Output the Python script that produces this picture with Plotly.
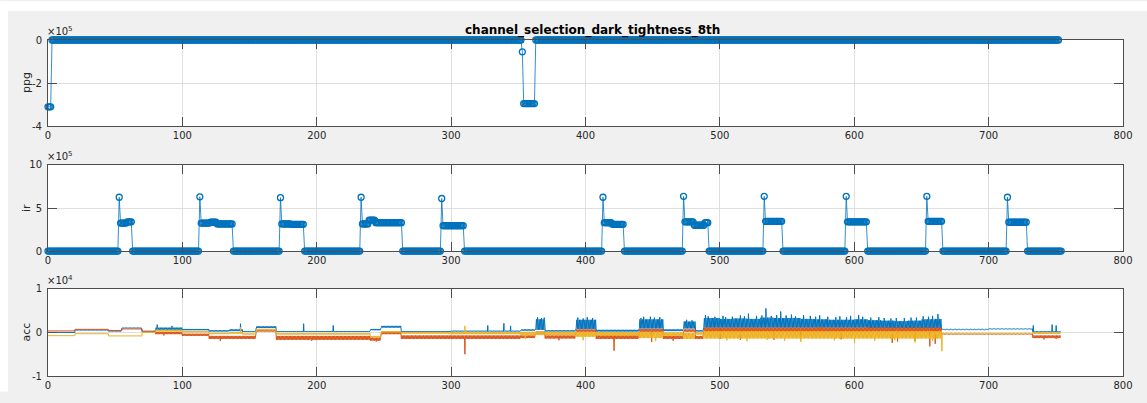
import numpy as np
import plotly.graph_objects as go

# ---------------- data ----------------
# ppg: constant runs of samples (start, end inclusive, value)
ppg_run_start = [0, 3, 353, 354, 363]
ppg_run_end = [2, 352, 353, 362, 752]
ppg_run_value = [-3.1e5, 0, -0.55e5, -2.95e5, 0]

# ir: constant runs of samples
ir_run_start = [0, 53, 54, 59, 63, 113, 114, 121, 126, 138, 173, 174, 181, 191, 233, 234, 239, 244,
                264, 293, 294, 310, 413, 414, 420, 429, 473, 474, 481, 489, 492, 533, 534, 547,
                594, 595, 610, 654, 655, 666, 714, 715, 729]
ir_run_end = [52, 53, 58, 62, 112, 113, 120, 125, 137, 172, 173, 180, 190, 232, 233, 238, 243, 263,
              292, 293, 309, 412, 413, 419, 428, 472, 473, 480, 488, 491, 532, 533, 546, 593,
              594, 609, 653, 654, 665, 713, 714, 728, 754]
ir_run_value = [0, 6.25e5, 3.25e5, 3.4e5, 0, 6.3e5, 3.25e5, 3.35e5, 3.15e5, 0, 6.2e5, 3.15e5, 3.1e5, 0,
                6.25e5, 3.15e5, 3.6e5, 3.3e5, 0, 6.1e5, 2.95e5, 0, 6.25e5, 3.3e5, 3.1e5, 0,
                6.35e5, 3.4e5, 3.0e5, 3.3e5, 0, 6.35e5, 3.45e5, 0, 6.35e5, 3.4e5, 0, 6.35e5,
                3.45e5, 0, 6.25e5, 3.35e5, 0]

# acc: segments with a low / high envelope, plus isolated spikes
acc_x_seg_start = [0, 20, 45, 55, 70, 80, 100, 120, 135, 145, 155, 170, 240, 248, 263, 300, 352, 363, 370,
                   393, 408, 440, 458, 473, 482, 488, 500, 510, 520, 530, 540, 550, 560, 570, 580,
                   590, 600, 610, 620, 630, 640, 650, 660, 665, 700, 733]
acc_x_seg_end = [20, 45, 55, 70, 80, 100, 120, 135, 145, 155, 170, 240, 248, 263, 300, 352, 363, 370, 393,
                 408, 440, 458, 473, 482, 488, 500, 510, 520, 530, 540, 550, 560, 570, 580, 590,
                 600, 610, 620, 630, 640, 650, 660, 665, 700, 733, 754]
acc_x_seg_lo = [0, 500, 250, 1000, 150, 600, 500, 200, 300, 100, 1000, 100, 500, 1100, 100, 200, 400, 600,
                200, 800, 200, 900, 300, 900, 200, 1100, 1100, 1100, 1100, 1100, 1100, 1100, 1100,
                1100, 1100, 1100, 1100, 1000, 1000, 1000, 1000, 1000, 1000, 600, 750, 50]
acc_x_seg_hi = [0, 550, 300, 1050, 200, 1100, 800, 500, 700, 300, 1400, 300, 800, 1500, 300, 400, 700, 3000,
                500, 2900, 600, 3000, 700, 2500, 500, 3300, 3100, 3200, 3100, 3400, 3300, 3300, 3100,
                3000, 2900, 2900, 3000, 2800, 2700, 2600, 2700, 3000, 3100, 750, 850, 250]
acc_x_spike_t = [81, 92, 143, 190, 212, 327, 339, 344,
                 364, 367, 369, 394, 398, 401, 405, 441, 443, 448, 451, 455, 475, 479,
                 489, 491, 496, 502, 504, 509, 515, 518, 521, 527, 531, 534, 538, 542, 545, 549,
                 553, 556, 562, 567, 571, 574, 580, 586, 589, 594, 597, 603, 606, 612, 618, 622,
                 627, 631, 637, 642, 646, 651, 655, 658, 662, 733, 747, 750]
acc_x_spike_v = [1800, 1500, 2000, 2000, 1600, 1600, 2100, 1500,
                 3500, 3300, 3400, 3400, 3200, 3500, 3300, 3300, 3600, 3600, 3400, 3500, 2900, 2800,
                 4000, 3700, 3600, 3800, 3500, 3600, 3900, 3700, 4300, 3800, 3900, 5500, 3800, 4000,
                 4800, 3900, 4100, 3700, 4000, 3800, 3600, 3900, 3600, 3500, 3700, 3500, 3800, 4000,
                 3600, 3400, 3500, 3300, 3200, 3300, 3300, 3400, 3400, 3700, 3600, 3800, 4200,
                 1600, 1800, 1600]

acc_y_seg_start = [0, 20, 45, 55, 70, 80, 100, 120, 155, 170, 240, 248, 263, 352, 363, 370, 393, 408,
                   440, 458, 473, 482, 488, 665, 733]
acc_y_seg_end = [20, 45, 55, 70, 80, 100, 120, 155, 170, 240, 248, 263, 352, 363, 370, 393, 408, 440,
                 458, 473, 482, 488, 665, 733, 754]
acc_y_seg_lo = [350, 700, 450, 800, 300, -400, -800, -1500, 200, -1700, -1900, -400, -1500, -1300, -400,
                -1400, 150, -1500, 150, -1500, 150, -1500, 150, -450, -1300]
acc_y_seg_hi = [350, 700, 450, 800, 300, 100, -300, -800, 500, -800, -1200, 200, -700, -700, 200,
                -700, 700, -700, 800, -800, 700, -800, 1100, -350, -700]
acc_y_spike_t = [86, 128, 196, 244, 310, 380, 421, 449, 465, 500, 515, 540, 560, 575, 590, 610, 628,
                 632, 645, 656, 660, 741, 750]
acc_y_spike_v = [-700, -1900, -1900, -2100, -5000, -1800, -4200, -2200, -1900, -1500, -1700, -1700,
                 -1500, 1500, -1600, 1400, -2400, -2100, -2000, -3200, -2600, -1600, -1500]

acc_z_seg_start = [0, 20, 45, 70, 80, 100, 120, 135, 145, 155, 170, 240, 248, 263, 300, 352, 393, 408,
                   440, 458, 473, 482, 488, 665, 733]
acc_z_seg_end = [20, 45, 70, 80, 100, 120, 135, 145, 155, 170, 240, 248, 263, 300, 352, 393, 408, 440,
                 458, 473, 482, 488, 665, 733, 754]
acc_z_seg_lo = [-750, -300, -800, 0, 200, 0, -400, -300, -500, 500, -500, -1100, 0, -300, -400, -600,
                -1000, -700, -1300, -800, -1500, -500, -1400, -300, -350]
acc_z_seg_hi = [-750, -300, -800, 0, 600, 300, -100, 100, -200, 800, -150, -800, 300, 100, 100, 150,
                100, 100, 100, 0, -100, 0, 300, -150, 0]
acc_z_spike_t = [143, 310, 355, 398, 452, 505, 520, 535, 548, 560, 585, 600, 615, 630, 645, 658, 665]
acc_z_spike_v = [1200, 1500, -1500, -1800, -1900, -1800, -2000, -1700, -1900, -2200, -1800, -2400,
                 -1900, -1800, -2300, -1900, -4300]

x_tick_vals = [0, 100, 200, 300, 400, 500, 600, 700, 800]
x_tick_text = ["0", "100", "200", "300", "400", "500", "600", "700", "800"]
ppg_tick_vals = [-4e5, -2e5, 0]
ppg_tick_text = ["-4", "-2", "0"]
ir_tick_vals = [0, 5e5, 10e5]
ir_tick_text = ["0", "5", "10"]
acc_tick_vals = [-1e4, 0, 1e4]
acc_tick_text = ["-1", "0", "1"]

TITLE = "channel_selection_dark_tightness_8th"
C_BLUE = "#0072BD"
C_RED = "#D95319"
C_YEL = "#EDB120"

# ---------------- helpers ----------------
def expand_runs(starts, ends, values):
    t, v = [], []
    for s, e, val in zip(starts, ends, values):
        for k in range(s, e + 1):
            t.append(k)
            v.append(val)
    return t, v


def band_series(starts, ends, los, his, spike_t, spike_v, step=0.5):
    pts = []
    for s, e, lo, hi in zip(starts, ends, los, his):
        if lo == hi:
            pts.append((s, lo))
            pts.append((e - 1e-6, lo))
        else:
            xs = np.arange(s, e, step)
            for i, xv in enumerate(xs):
                pts.append((float(xv), lo if i % 2 == 0 else hi))
    for st, sv in zip(spike_t, spike_v):
        pts.append((st + 0.25, sv))
    pts.sort(key=lambda p: p[0])
    return [p[0] for p in pts], [p[1] for p in pts]


ppg_t, ppg_v = expand_runs(ppg_run_start, ppg_run_end, ppg_run_value)
ir_t, ir_v = expand_runs(ir_run_start, ir_run_end, ir_run_value)
ax_t, ax_v = band_series(acc_x_seg_start, acc_x_seg_end, acc_x_seg_lo, acc_x_seg_hi, acc_x_spike_t, acc_x_spike_v)
ay_t, ay_v = band_series(acc_y_seg_start, acc_y_seg_end, acc_y_seg_lo, acc_y_seg_hi, acc_y_spike_t, acc_y_spike_v)
az_t, az_v = band_series(acc_z_seg_start, acc_z_seg_end, acc_z_seg_lo, acc_z_seg_hi, acc_z_spike_t, acc_z_spike_v)

# ---------------- figure ----------------
W, H = 1147, 403
ML, MR, MT, MB = 48, 24, 40, 16
PW = W - ML - MR
PH = H - MT - MB


def py2paper(py):
    return (H - MB - py) / PH


def px2paper(px):
    return (px - ML) / PW


fig = go.Figure()

marker_style = dict(symbol="circle-open", size=6, color=C_BLUE, line=dict(width=1.3, color=C_BLUE))
fig.add_trace(go.Scatter(x=ppg_t, y=ppg_v, mode="lines+markers", line=dict(color=C_BLUE, width=0.8),
                         marker=marker_style, cliponaxis=False, xaxis="x", yaxis="y", showlegend=False))
fig.add_trace(go.Scatter(x=ir_t, y=ir_v, mode="lines+markers", line=dict(color=C_BLUE, width=0.8),
                         marker=marker_style, cliponaxis=False, xaxis="x2", yaxis="y2", showlegend=False))
for tt, vv, cc in [(ax_t, ax_v, C_BLUE), (ay_t, ay_v, C_RED), (az_t, az_v, C_YEL)]:
    fig.add_trace(go.Scatter(x=tt, y=vv, mode="lines", line=dict(color=cc, width=1.0, simplify=False),
                             xaxis="x3", yaxis="y3", showlegend=False))

tickfont = dict(family="DejaVu Sans", size=10, color="#262626")
axis_common = dict(showline=True, linecolor="#4d4d4d", linewidth=1, mirror="ticks",
                   ticks="inside", ticklen=9, tickcolor="#4d4d4d", tickwidth=1,
                   showgrid=True, gridcolor="#dfdfdf", gridwidth=1, zeroline=False,
                   tickfont=tickfont)

domains = [(py2paper(129), 1.0), (py2paper(258), py2paper(169)), (0.0, py2paper(297))]
yspecs = [([-4e5, 0], ppg_tick_vals, ppg_tick_text),
          ([0, 1e6], ir_tick_vals, ir_tick_text),
          ([-1e4, 1e4], acc_tick_vals, acc_tick_text)]

layout = dict(width=W, height=H, autosize=False,
              margin=dict(l=ML, r=MR, t=MT, b=MB, pad=0),
              paper_bgcolor="#f0f0f0", plot_bgcolor="white",
              font=dict(family="DejaVu Sans", color="#262626"),
              showlegend=False)
for i in range(3):
    sx = "" if i == 0 else str(i + 1)
    layout["xaxis" + sx] = dict(axis_common, domain=[0, 1], range=[0, 800], anchor="y" + sx,
                                tickvals=x_tick_vals, ticktext=x_tick_text)
    rng, tv, tt = yspecs[i]
    layout["yaxis" + sx] = dict(axis_common, domain=list(domains[i]), range=rng, anchor="x" + sx,
                                tickvals=tv, ticktext=tt, ticklabelstandoff=3)
fig.update_layout(**layout)

annotations = []
annotations.append(dict(text="<b>" + TITLE + "</b>", xref="paper", yref="paper",
                        x=px2paper(592), y=py2paper(30), xanchor="center", yanchor="middle",
                        showarrow=False, font=dict(family="DejaVu Sans", size=12, color="black")))
for lab, cy in [("ppg", 84.5), ("ir", 213.5), ("acc", 342)]:
    annotations.append(dict(text=lab, xref="paper", yref="paper", x=px2paper(26), y=py2paper(cy),
                            xanchor="center", yanchor="middle", textangle=-90, showarrow=False,
                            font=dict(family="DejaVu Sans", size=11, color="#262626")))
for expo, by in [("5", 38), ("5", 167), ("4", 295)]:
    annotations.append(dict(text="×10<sup>" + expo + "</sup>", xref="paper", yref="paper",
                            x=px2paper(46), y=py2paper(by), xanchor="left", yanchor="bottom",
                            showarrow=False, borderpad=0,
                            font=dict(family="DejaVu Sans", size=10, color="#262626")))
fig.update_layout(annotations=annotations)

# white outer strips (top and left of the grey figure area)
fig.add_shape(type="rect", xref="paper", yref="paper", x0=px2paper(0), x1=px2paper(W),
              y0=py2paper(10), y1=py2paper(0), fillcolor="white", line=dict(width=0), layer="below")
fig.add_shape(type="rect", xref="paper", yref="paper", x0=px2paper(0), x1=px2paper(8),
              y0=py2paper(H), y1=py2paper(0), fillcolor="white", line=dict(width=0), layer="below")

fig.write_html("out.html")
